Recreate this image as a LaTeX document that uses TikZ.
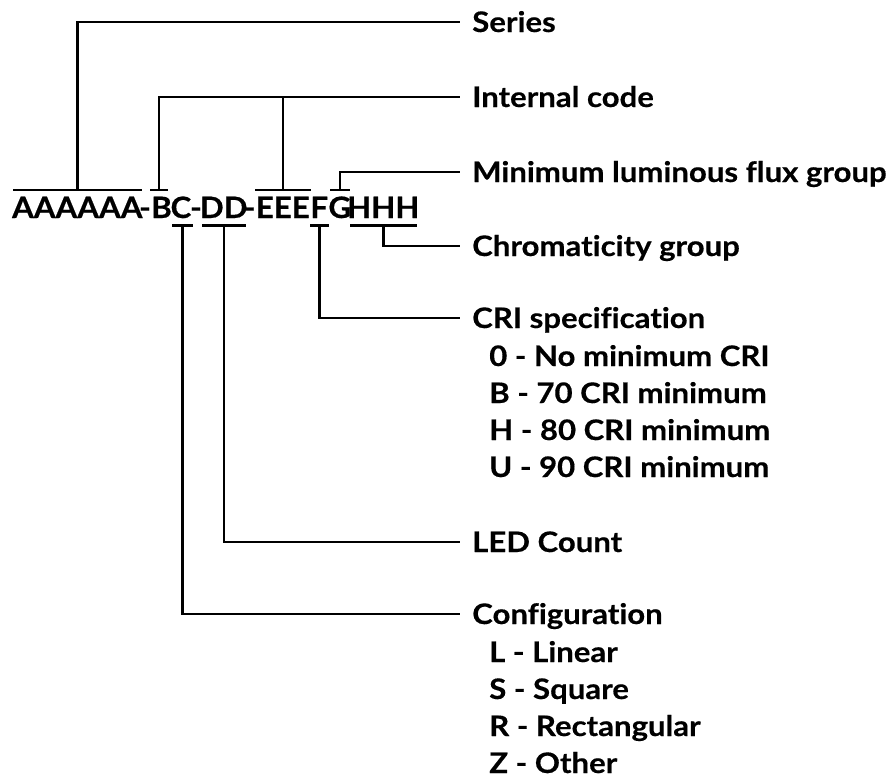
\documentclass[tikz,border=0pt]{standalone}
\usepackage{fontspec}
\setmainfont{Lato}[Ligatures=NoCommon]
\newfontfamily\labfont{Lato}[FakeStretch=1.1, FakeBold=0.4, Ligatures=NoCommon]
\newfontfamily\codefont{Lato}[FakeStretch=1.06, FakeBold=0.5, Ligatures=NoCommon]
\newcommand\cbox[3][c]{\makebox[#2pt][#1]{#3}}
\begin{document}
\begin{tikzpicture}[x=1pt,y=-1pt,
  line width=2.5pt, line cap=butt, line join=miter,
  code/.style={inner sep=0pt, anchor=base west, text height=21pt, text depth=0pt,
    font=\codefont\fontsize{29.5}{29.5}\selectfont\bfseries},
  lab/.style={inner sep=0pt, anchor=west, text height=20pt, text depth=0pt,
    font=\labfont\fontsize{28.3}{28.3}\selectfont\bfseries},
  conn/.style={line width=2.5pt}]
\useasboundingbox (0,0) rectangle (893,779);
% code string
\node[code] (cA) at (13,218) {\cbox{126}{AAAAAA}};
\node[code, anchor=base] (h1) at (145,218) {-};
\node[code] (cB) at (150,218) {\cbox[l]{15}{B}};
\node[code] (cC) at (172,218) {\cbox[r]{18}{C}};
\node[code, anchor=base] (h2) at (196,218) {-};
\node[code] (cD) at (202,218) {\cbox{41}{DD}};
\node[code, anchor=base] (h3) at (249.5,218) {-};
\node[code] (cE) at (255,218) {\cbox{53}{EEE}};
\node[code] (cF) at (310,218) {\cbox{16}{F}};
\node[code] (cG) at (330,218) {\cbox{17}{G}};
\node[code] (cH) at (350,218) {\cbox{64}{HHH}};
% labels
\node[lab] (series) at (471,22) {Series};
\node[lab] (internal) at (471,97) {Internal code};
\node[lab] (minlum) at (471,172) {Minimum luminous flux group};
\node[lab] (chroma) at (471,246) {Chromaticity group};
\node[lab] (cri) at (471,318) {CRI specification};
\node[lab] (cri0) at (488,356) {0 - No minimum CRI};
\node[lab] (criB) at (488,393) {B - 70 CRI minimum};
\node[lab] (criH) at (488,430) {H - 80 CRI minimum};
\node[lab] (criU) at (488,467) {U - 90 CRI minimum};
\node[lab] (led) at (471,542) {LED Count};
\node[lab] (config) at (471,614) {Configuration};
\node[lab] (cfgL) at (488,652) {L - Linear};
\node[lab] (cfgS) at (488,689) {S - Square};
\node[lab] (cfgR) at (488,726) {R - Rectangular};
\node[lab] (cfgZ) at (488,763) {Z - Other};
% over- and underbars
\foreach \n in {cA,cB,cE,cG}
  \draw[conn] ([yshift=6pt]\n.north west) -- ([yshift=6pt]\n.north east);
\foreach \n in {cC,cD,cF,cH}
  \draw[conn] ([yshift=-6pt]\n.south west) -- ([yshift=-6pt]\n.south east);
% connectors
\draw[conn] ([yshift=6pt]cA.north) |- ([xshift=-11pt]series.west);
\draw[conn] ([yshift=6pt]cB.north) |- ([xshift=-11pt]internal.west);
\draw[conn] ([yshift=6pt]cE.north) -- (cE.north |- internal.west);
\draw[conn] ([yshift=6pt]cG.north) |- ([xshift=-11pt]minlum.west);
\draw[conn] ([yshift=-6pt]cH.south) |- ([xshift=-11pt]chroma.west);
\draw[conn] ([yshift=-6pt]cF.south) |- ([xshift=-11pt]cri.west);
\draw[conn] ([yshift=-6pt]cD.south) |- ([xshift=-11pt]led.west);
\draw[conn] ([yshift=-6pt]cC.south) |- ([xshift=-11pt]config.west);
\end{tikzpicture}
\end{document}
